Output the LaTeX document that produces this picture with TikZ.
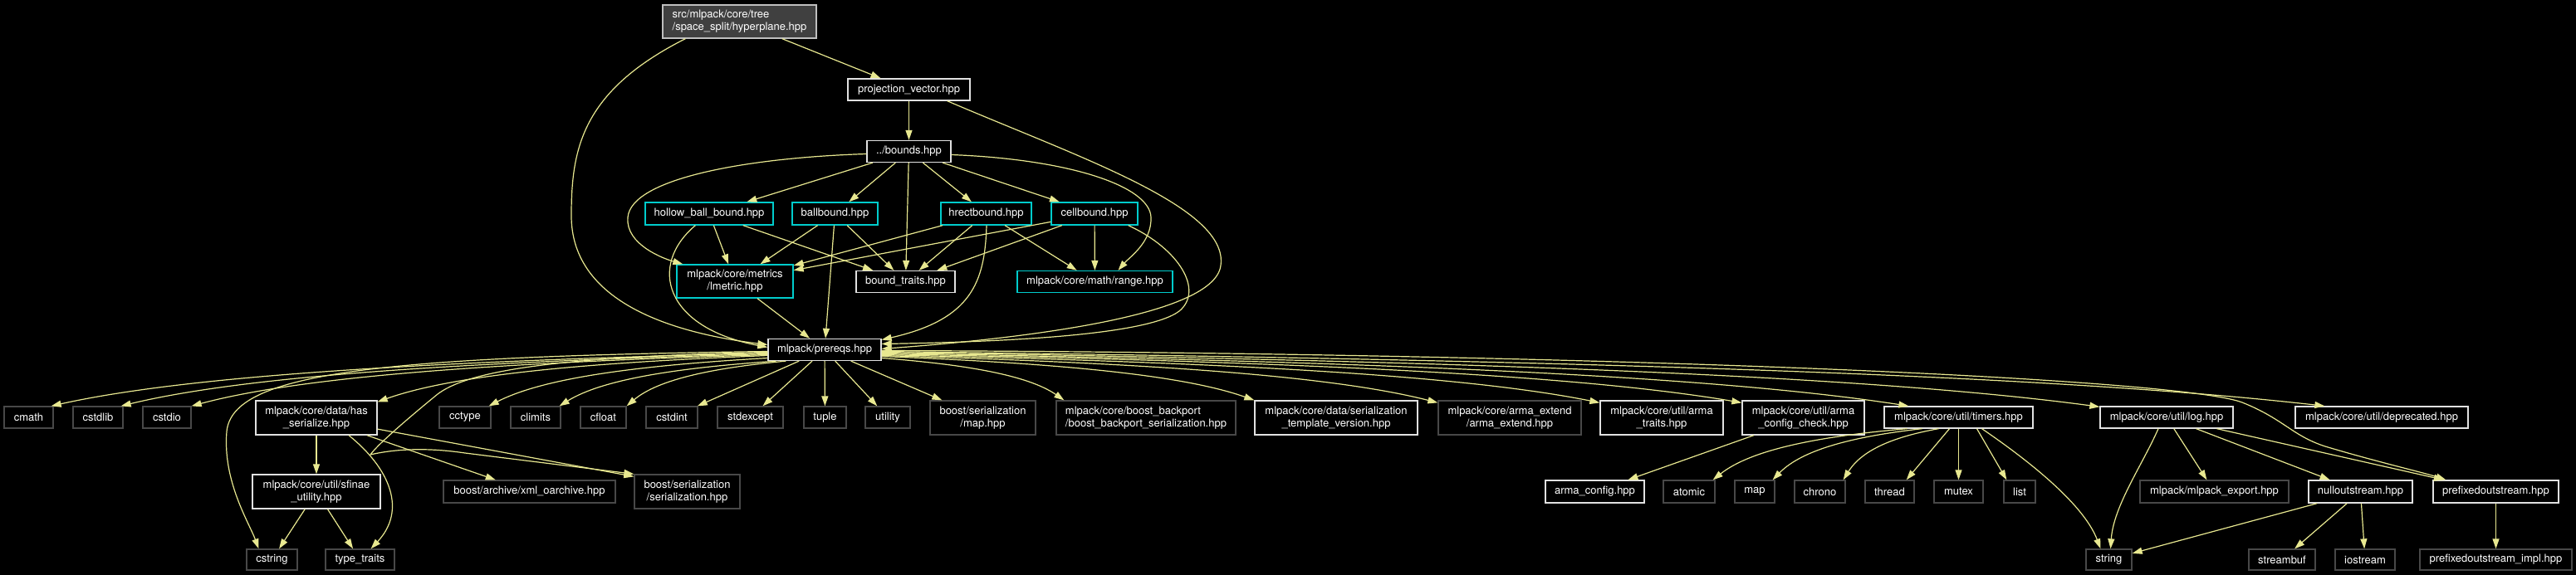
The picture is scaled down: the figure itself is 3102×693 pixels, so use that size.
\documentclass[tikz,border=0pt]{standalone}
\usepackage{fontspec}
\setmainfont{TeX Gyre Heros}
\usetikzlibrary{arrows.meta,calc}
\definecolor{edgecol}{RGB}{232,232,144}
\definecolor{wbcol}{RGB}{225,225,225}
\definecolor{gbcol}{RGB}{72,72,72}
\definecolor{cycol}{RGB}{0,204,204}
\definecolor{hypfill}{RGB}{64,64,64}
\definecolor{hypborder}{RGB}{191,191,191}
\newcommand\fsz{\fontsize{13}{15}\selectfont}
\newcommand\cedge[2]{\draw[edge] let \p1=(#1), \p2=(#2) in (\p1) .. controls ($(\p1)+({0.45*(\x2-\x1)},{0.15*(\y2-\y1)})$) and ($(\p2)-({0.2*(\x2-\x1)},{0.6*(\y2-\y1)})$) .. (\p2);}
\tikzset{
  box/.style={draw, line width=1.3pt, inner sep=0pt, minimum height=26pt, text=white, font=\fsz, align=center},
  wb/.style={box, draw=wbcol},
  gb/.style={box, draw=gbcol},
  cb/.style={box, draw=cycol},
  tall/.style={minimum height=41pt},
  edge/.style={draw=edgecol, line width=1.2pt, -{Triangle[length=12pt,width=8pt]}},
}
\begin{document}
\begin{tikzpicture}[x=1pt,y=-1pt]
\fill[black] (0,0) rectangle (3102,693);
\useasboundingbox (0,0) rectangle (3102,693);

% top
\node[box, draw=hypborder, fill=hypfill, minimum width=185pt, minimum height=40pt, align=left] (hyp) at (890.5,26) {src/mlpack/core/tree\\/space\_split/hyperplane.hpp};
\node[wb, minimum width=147pt] (pv) at (1094.5,108) {projection\_vector.hpp};
\node[wb, minimum width=101pt] (bounds) at (1094.5,182.5) {../bounds.hpp};

% bounds row
\node[cb, minimum width=154pt, minimum height=27pt] (hbb) at (854,257.5) {hollow\_ball\_bound.hpp};
\node[cb, minimum width=103pt, minimum height=27pt] (ball) at (1005.5,257.5) {ballbound.hpp};
\node[cb, minimum width=109pt, minimum height=27pt] (hrect) at (1187.5,257.5) {hrectbound.hpp};
\node[cb, minimum width=104pt, minimum height=27pt] (cell) at (1318,257.5) {cellbound.hpp};

\node[cb, minimum width=140pt, minimum height=40pt] (lmetric) at (885,339) {mlpack/core/metrics\\/lmetric.hpp};
\node[wb, minimum width=119pt] (bt) at (1090.5,339.5) {bound\_traits.hpp};
\node[cb, minimum width=187pt] (range) at (1318.5,339.5) {mlpack/core/math/range.hpp};

\node[wb, minimum width=136pt] (prereqs) at (993,421.5) {mlpack/prereqs.hpp};

% row 6
\node[gb, minimum width=59pt] (cmath) at (34.5,503) {cmath};
\node[gb, minimum width=60pt] (cstdlib) at (118,503) {cstdlib};
\node[gb, minimum width=58pt] (cstdio) at (201,503) {cstdio};
\node[wb, tall, minimum width=146pt] (hs) at (381,503.5) {mlpack/core/data/has\\\_serialize.hpp};
\node[gb, minimum width=62pt] (cctype) at (560,503) {cctype};
\node[gb, minimum width=60pt] (climits) at (645,503) {climits};
\node[gb, minimum width=55pt] (cfloat) at (726.5,503) {cfloat};
\node[gb, minimum width=62pt] (cstdint) at (809,503) {cstdint};
\node[gb, minimum width=79pt] (stdexcept) at (903.5,503) {stdexcept};
\node[gb, minimum width=51pt] (tuple) at (993.5,503) {tuple};
\node[gb, minimum width=54pt] (utility) at (1069,503) {utility};
\node[gb, tall, minimum width=127pt] (bmap) at (1183.5,503.5) {boost/serialization\\/map.hpp};
\node[gb, tall, minimum width=216pt, align=left] (bp) at (1380,503.5) {mlpack/core/boost\_backport\\/boost\_backport\_serialization.hpp};
\node[wb, tall, minimum width=196pt] (stv) at (1609,503.5) {mlpack/core/data/serialization\\\_template\_version.hpp};
\node[gb, tall, minimum width=172pt] (ae) at (1818,503.5) {mlpack/core/arma\_extend\\/arma\_extend.hpp};
\node[wb, tall, minimum width=148pt] (atr) at (2001,503.5) {mlpack/core/util/arma\\\_traits.hpp};
\node[wb, tall, minimum width=147pt] (acc) at (2171.5,503.5) {mlpack/core/util/arma\\\_config\_check.hpp};
\node[wb, minimum width=179pt] (timers) at (2358.5,503) {mlpack/core/util/timers.hpp};
\node[wb, minimum width=160pt] (log) at (2609,503) {mlpack/core/util/log.hpp};
\node[wb, minimum width=208pt] (dep) at (2868,503) {mlpack/core/util/deprecated.hpp};

% row 7
\node[wb, tall, minimum width=154pt] (sfinae) at (381,592.5) {mlpack/core/util/sfinae\\\_utility.hpp};
\node[gb, minimum width=207pt, minimum height=27pt] (xml) at (637.5,592.5) {boost/archive/xml\_oarchive.hpp};
\node[gb, tall, minimum width=127pt] (ser) at (827.5,592.5) {boost/serialization\\/serialization.hpp};
\node[wb, minimum width=119pt, minimum height=27pt] (ac) at (1920.5,592.5) {arma\_config.hpp};
\node[gb, minimum width=62pt, minimum height=27pt] (atomic) at (2034,592.5) {atomic};
\node[gb, minimum width=48pt, minimum height=27pt] (map) at (2113,592.5) {map};
\node[gb, minimum width=61pt, minimum height=27pt] (chrono) at (2191.5,592.5) {chrono};
\node[gb, minimum width=59pt, minimum height=27pt] (thread) at (2275.5,592.5) {thread};
\node[gb, minimum width=59pt, minimum height=27pt] (mutex) at (2358.5,592.5) {mutex};
\node[gb, minimum width=38pt, minimum height=27pt] (list) at (2432,592.5) {list};
\node[gb, minimum width=179pt, minimum height=27pt] (mexp) at (2666.5,592.5) {mlpack/mlpack\_export.hpp};
\node[wb, minimum width=125pt, minimum height=27pt] (null) at (2842.5,592.5) {nulloutstream.hpp};
\node[wb, minimum width=151pt, minimum height=27pt] (pfx) at (3005.5,592.5) {prefixedoutstream.hpp};

% row 8
\node[gb, minimum width=61pt, minimum height=25pt] (cstring) at (327.5,674.5) {cstring};
\node[gb, minimum width=83pt, minimum height=25pt] (tt) at (433.5,674.5) {type\_traits};
\node[gb, minimum width=55pt, minimum height=25pt] (string) at (2539.5,674.5) {string};
\node[gb, minimum width=80pt, minimum height=25pt] (streambuf) at (2748,674.5) {streambuf};
\node[gb, minimum width=72pt, minimum height=25pt] (iostream) at (2848,674.5) {iostream};
\node[gb, minimum width=183pt, minimum height=25pt] (pimpl) at (3005.5,674.5) {prefixedoutstream\_impl.hpp};

% ---------- edges ----------
\draw[edge] (hyp) -- (pv);
\draw[edge] ($(hyp.south west)+(28,0)$) .. controls (700,110) and (688,180) .. (688,260) .. controls (688,360) and (800,400) .. ($(prereqs.west)+(0,-6)$);
\draw[edge] (pv) -- (bounds);
\draw[edge] ($(pv.south east)+(-28,0)$) .. controls (1300,190) and (1480,250) .. (1470,320) .. controls (1462,385) and (1200,410) .. ($(prereqs.east)+(0,-1)$);

\draw[edge] (bounds) -- (hbb);
\draw[edge] (bounds) -- (ball);
\draw[edge] (bounds) -- (hrect);
\draw[edge] (bounds) -- (cell);
\draw[edge] (bounds) -- (bt);
\draw[edge] ($(bounds.west)+(0,3)$) .. controls (900,190) and (760,215) .. (756,262) .. controls (753,295) and (800,312) .. ($(lmetric.north west)+(8,0)$);
\draw[edge] ($(bounds.east)+(0,4)$) .. controls (1290,192) and (1385,225) .. (1386,262) .. controls (1387,292) and (1360,310) .. ($(range.north)+(28,0)$);

\draw[edge] (hbb) -- (lmetric);
\draw[edge] (hbb) -- (bt);
\draw[edge] ($(hbb.south west)+(61,0)$) .. controls (780,320) and (800,395) .. ($(prereqs.west)+(0,-3)$);
\draw[edge] (ball) -- (lmetric);
\draw[edge] (ball) -- (bt);
\draw[edge] (ball) -- (prereqs);
\draw[edge] (hrect) -- (lmetric);
\draw[edge] (hrect) -- (bt);
\draw[edge] (hrect) -- (range);
\draw[edge] ($(hrect.south)+(0.5,0)$) .. controls (1186,340) and (1170,385) .. ($(prereqs.east)+(0,-12)$);
\draw[edge] (cell) -- (lmetric);
\draw[edge] (cell) -- (bt);
\draw[edge] (cell) -- (range);
\draw[edge] ($(cell.south east)+(-12,0)$) .. controls (1420,300) and (1450,350) .. (1420,375) .. controls (1380,405) and (1200,412) .. ($(prereqs.east)+(0,-7)$);
\draw[edge] (lmetric) -- (prereqs);

% prereqs outgoing, left
\cedge{$(prereqs.west)+(0,4)$}{$(cmath.north east)+(-3,0)$}
\cedge{$(prereqs.west)+(0,5)$}{$(cstdlib.north east)+(-3,0)$}
\cedge{$(prereqs.west)+(0,6)$}{$(cstdio.north east)$}
\cedge{$(prereqs.west)+(0,7)$}{$(hs.north east)+(0,2)$}
\cedge{$(prereqs.west)+(0,10)$}{$(cctype.north east)+(-3,0)$}
\cedge{$(prereqs.south west)+(10,0)$}{$(climits.north east)+(-2,0)$}
\cedge{$(prereqs.south west)+(22,0)$}{$(cfloat.north east)$}
\draw[edge] (prereqs) -- (cstdint);
\draw[edge] (prereqs) -- (stdexcept);
\draw[edge] (prereqs) -- (tuple);
\draw[edge] (prereqs) -- (utility);
\draw[edge] (prereqs) -- (bmap);
\draw[edge] ($(prereqs.west)+(0,2)$) .. controls (450,430) and (280,450) .. (273,520) .. controls (268,580) and (300,630) .. ($(cstring.north)+(-16,0)$);
\draw[edge] ($(prereqs.west)+(0,3)$) .. controls (650,430) and (560,450) .. (527,475) .. controls (500,497) and (455,535) .. (446,548) .. controls (480,540) and (520,540) .. (560,546) -- ($(ser.north west)$);

% prereqs outgoing, right
\cedge{$(prereqs.east)+(0,10)$}{$(bp.north west)+(10,0)$}
\cedge{$(prereqs.east)+(0,8)$}{$(stv.north west)$}
\cedge{$(prereqs.east)+(0,7)$}{$(ae.north west)+(0,3)$}
\cedge{$(prereqs.east)+(0,6)$}{$(atr.north west)+(0,3)$}
\cedge{$(prereqs.east)+(0,5)$}{$(acc.north west)+(0,3)$}
\cedge{$(prereqs.east)+(0,4)$}{$(timers.north west)+(30,0)$}
\cedge{$(prereqs.east)+(0,3)$}{$(log.north west)+(0,1)$}
\cedge{$(prereqs.east)+(0,2)$}{$(dep.north west)+(36,0)$}
\draw[edge] ($(prereqs.east)+(0,1)$) .. controls (1900,425) and (2620,455) .. (2700,485) .. controls (2750,505) and (2760,525) .. (2800,538) .. controls (2860,556) and (2920,570) .. ($(pfx.north west)+(16,0)$);

% has_serialize / sfinae
\draw[edge] (hs) -- (sfinae);
\draw[edge] ($(hs.south)+(39,0)$) .. controls (470,565) and (490,615) .. ($(tt.north east)+(-29,0)$);
\draw[edge] (hs) -- (xml);
\draw[edge] (hs) -- ($(ser.north west)+(0,3)$);
\draw[edge] (sfinae) -- (cstring);
\draw[edge] (sfinae) -- (tt);

% arma config
\draw[edge] (acc) -- (ac);

% timers
\cedge{$(timers.south)+(-62,0)$}{$(atomic.north east)+(-3,0)$}
\cedge{$(timers.south)+(-44,0)$}{$(map.north east)+(-3,0)$}
\cedge{$(timers.south)+(-24,0)$}{$(chrono.north east)+(-3,0)$}
\draw[edge] ($(timers.south)+(-11,0)$) -- ($(thread.north east)+(-10,0)$);
\draw[edge] (timers.south) -- (mutex.north);
\draw[edge] ($(timers.south)+(22,0)$) -- ($(list.north west)+(4,0)$);
\draw[edge] ($(timers.south)+(28,0)$) .. controls (2450,560) and (2510,610) .. ($(string.north)+(-10,0)$);

% log
\draw[edge] ($(log.south)+(-10,0)$) .. controls (2580,560) and (2545,610) .. ($(string.north)+(2,0)$);
\draw[edge] (log) -- (mexp);
\draw[edge] (log) -- (null);
\draw[edge] (log) -- (pfx);

% nulloutstream / prefixedoutstream
\draw[edge] (null) -- (string);
\draw[edge] (null) -- (streambuf);
\draw[edge] (null) -- (iostream);
\draw[edge] (pfx) -- (pimpl);
\end{tikzpicture}
\end{document}
